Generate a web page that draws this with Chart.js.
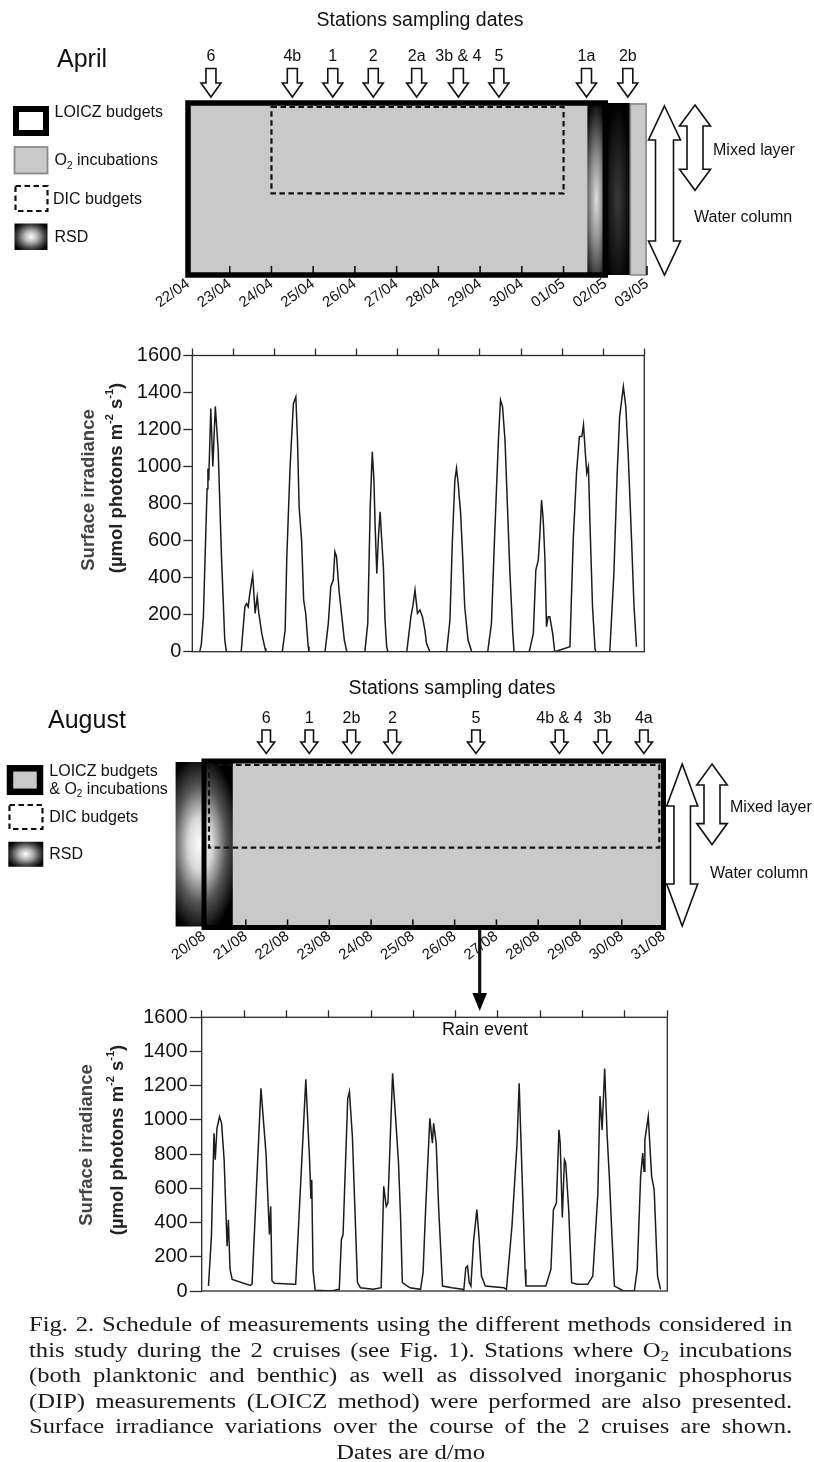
<!DOCTYPE html>
<html lang="en">
<head>
<meta charset="utf-8">
<title>Fig. 2 – Schedule of measurements and surface irradiance</title>
<script src="https://cdn.jsdelivr.net/npm/chart.js"></script>
<style>
  html, body { margin: 0; padding: 0; background: #fff; }
  #fig { position: relative; width: 814px; height: 1462px; overflow: hidden; background: #fff; }
  #fig canvas { position: absolute; left: 0; top: 0; }
  #caption {
    position: absolute; left: 29px; top: 1312px; width: 636px;
    transform: scaleX(1.2); transform-origin: 0 0;
    font-family: "Liberation Serif", "Times New Roman", serif;
    font-size: 20.5px; line-height: 25.6px; color: #1a1a1a;
  }
  #caption .ln { text-align: justify; text-align-last: justify; height: 25.6px; }
  #caption .last { text-align: center; text-align-last: center; }
  #caption sub { font-size: 0.7em; line-height: 0; vertical-align: -0.25em; }
</style>
</head>
<body>
<div id="fig">
  <canvas id="aprilSchedule" width="814" height="1462"></canvas>
  <canvas id="aprilIrradiance" width="814" height="1462"></canvas>
  <canvas id="augustSchedule" width="814" height="1462"></canvas>
  <canvas id="augustIrradiance" width="814" height="1462"></canvas>
  <div id="caption">
    <div class="ln">Fig. 2. Schedule of measurements using the different methods considered in</div>
    <div class="ln">this study during the 2 cruises (see Fig. 1). Stations where O<sub>2</sub> incubations</div>
    <div class="ln">(both planktonic and benthic) as well as dissolved inorganic phosphorus</div>
    <div class="ln">(DIP) measurements (LOICZ method) were performed are also presented.</div>
    <div class="ln">Surface irradiance variations over the course of the 2 cruises are shown.</div>
    <div class="ln last">Dates are d/mo</div>
  </div>
</div>
<script>
// ================= April cruise (days counted from 22/04, 00:00) =================
const aprilDates = ['22/04', '23/04', '24/04', '25/04', '26/04', '27/04',
                    '28/04', '29/04', '30/04', '01/05', '02/05', '03/05'];
const aprilStationLabels = ['6', '4b', '1', '2', '2a', '3b & 4', '5', '1a', '2b'];
const aprilStationDays   = [0.55, 2.5, 3.47, 4.44, 5.48, 6.48, 7.45, 9.55, 10.54];
const aprilLoiczPeriod   = [0, 10];
const aprilO2Periods     = [[0, 9.57], [10.6, 11]];
const aprilDicPeriod     = [2, 9];
const aprilRsdPeriods    = [[9.57, 10], [10, 10.6]];
const aprilMixedDepth    = 0.525;   // fraction of the water column

// Surface irradiance (µmol photons m-2 s-1), time in days from 22/04
const aprilTimes = [
  0.18, 0.22, 0.27, 0.31, 0.36, 0.38, 0.40, 0.45, 0.50, 0.56, 0.63, 0.71, 0.79, 0.83,
  1.19, 1.28, 1.32, 1.36, 1.40, 1.47, 1.53, 1.58, 1.62, 1.69, 1.77, 1.79,
  2.19, 2.26, 2.30, 2.38, 2.46, 2.52, 2.56, 2.60, 2.66, 2.71, 2.76, 2.82, 2.84,
  3.23, 3.31, 3.37, 3.43, 3.47, 3.51, 3.57, 3.63, 3.70, 3.76,
  4.20, 4.27, 4.33, 4.38, 4.42, 4.45, 4.49, 4.53, 4.57, 4.61, 4.65, 4.69, 4.73, 4.76,
  5.22, 5.32, 5.37, 5.42, 5.48, 5.54, 5.60, 5.66, 5.70, 5.78,
  6.19, 6.27, 6.33, 6.39, 6.43, 6.47, 6.53, 6.58, 6.63, 6.71, 6.80,
  7.19, 7.28, 7.36, 7.45, 7.50, 7.55, 7.61, 7.67, 7.73, 7.80, 7.83,
  8.20, 8.30, 8.36, 8.42, 8.46, 8.50, 8.54, 8.58, 8.62, 8.66, 8.70, 8.77, 8.82,
  9.19, 9.27, 9.35, 9.42, 9.48, 9.52, 9.56, 9.60, 9.64, 9.68, 9.74, 9.80, 9.82,
  10.16, 10.26, 10.34, 10.40, 10.49, 10.55, 10.61, 10.69, 10.75, 10.81
];
const aprilIrradiance = [
  0, 40, 190, 500, 880, 990, 925, 1314, 1000, 1325, 1090, 515, 63, 0,
  0, 243, 260, 243, 315, 414, 207, 297, 207, 99, 18, 0,
  0, 117, 512, 999, 1340, 1377, 1142, 782, 603, 279, 207, 27, 0,
  0, 153, 351, 387, 540, 513, 333, 207, 63, 0,
  0, 153, 783, 1080, 927, 675, 423, 620, 756, 603, 459, 171, 27, 0,
  0, 189, 250, 333, 207, 225, 189, 117, 45, 0,
  0, 171, 603, 927, 991, 910, 747, 513, 243, 63, 0,
  0, 153, 639, 1144, 1360, 1324, 1144, 783, 423, 99, 0,
  0, 99, 441, 495, 639, 819, 711, 513, 135, 189, 189, 99, 0,
  27, 603, 964, 1162, 1162, 1225, 1090, 964, 1000, 675, 243, 18, 0,
  0, 423, 964, 1270, 1432, 1324, 1054, 603, 243, 27
];

// ================= August cruise (days counted from 20/08, 00:00) =================
const augustDates = ['20/08', '21/08', '22/08', '23/08', '24/08', '25/08',
                     '26/08', '27/08', '28/08', '29/08', '30/08', '31/08'];
const augustStationLabels = ['6', '1', '2b', '2', '5', '4b & 4', '3b', '4a'];
const augustStationDays   = [1.49, 2.52, 3.53, 4.51, 6.51, 8.51, 9.54, 10.53];
const augustLoiczPeriod   = [0, 11];
const augustO2Periods     = [[0.69, 11]];
const augustDicPeriod     = [0.12, 10.9];
const augustRsdPeriods    = [[-0.68, 0.69]];
const augustMixedDepth    = 0.52;
const rainEventDay        = 6.6;

const augustTimes = [
  0.16, 0.23, 0.29, 0.32, 0.36, 0.42, 0.47, 0.53, 0.60, 0.63, 0.67, 0.72,
  1.15, 1.19, 1.40, 1.52, 1.60, 1.63, 1.66, 1.72,
  2.18, 2.22, 2.46, 2.55, 2.58, 2.60, 2.63, 2.68,
  3.07, 3.25, 3.30, 3.34, 3.45, 3.49, 3.56, 3.62, 3.68, 3.75,
  4.05, 4.24, 4.30, 4.36, 4.40, 4.51, 4.59, 4.65, 4.70, 4.74, 4.92,
  5.17, 5.23, 5.29, 5.39, 5.45, 5.48, 5.54, 5.60, 5.69, 5.91,
  6.16, 6.19, 6.24, 6.28, 6.32, 6.36, 6.42, 6.50, 6.55, 6.61, 6.70,
  7.14, 7.20, 7.33, 7.45, 7.50, 7.57, 7.64, 7.66, 7.82,
  8.13, 8.25, 8.31, 8.38, 8.44, 8.47, 8.52, 8.57, 8.60, 8.67, 8.74, 8.87,
  9.12, 9.24, 9.36, 9.41, 9.46, 9.52, 9.58, 9.63, 9.70, 9.75, 9.97,
  10.22, 10.29, 10.37, 10.42, 10.45, 10.47, 10.55, 10.63, 10.69, 10.77, 10.84
];
const augustIrradiance = [
  29, 320, 922, 767, 950, 1019, 980, 767, 262, 417, 126, 68,
  33, 40, 1185, 800, 330, 495, 60, 45,
  39, 39, 1237, 760, 540, 650, 120, 5,
  0, 10, 300, 330, 1125, 1165, 903, 476, 49, 19,
  10, 19, 612, 495, 515, 1272, 980, 748, 417, 49, 19,
  10, 107, 476, 1010, 864, 980, 864, 476, 29, 19,
  10, 0, 136, 146, 49, 29, 282, 476, 320, 87, 29,
  19, 10, 379, 864, 1214, 670, 126, 29, 29,
  29, 126, 476, 515, 942, 864, 430, 767, 748, 476, 49, 39,
  39, 87, 573, 1140, 942, 1301, 903, 670, 282, 29, 0,
  0, 126, 670, 806, 700, 884, 1020, 670, 592, 87, 10
];

// ================= drawing helpers =================
const FONT = '"Liberation Sans", Arial, Helvetica, sans-serif';
const GREY = '#c9c9c9';
Chart.defaults.font.family = FONT;
Chart.defaults.color = '#111';

// Text made of runs, each run normal / 'sub' / 'sup'
function rich(ctx, parts, x, y, size, opt = {}) {
  const weight = opt.weight || 'normal';
  const color = opt.color || '#111';
  const small = Math.round(size * 0.62);
  const fontFor = m => `${weight} ${m ? small : size}px ${FONT}`;
  let total = 0;
  parts.forEach(([t, m]) => { ctx.font = fontFor(m); total += ctx.measureText(t).width; });
  let cx = opt.align === 'center' ? x - total / 2 : x;
  ctx.fillStyle = color;
  ctx.textBaseline = 'middle';
  ctx.textAlign = 'left';
  parts.forEach(([t, m]) => {
    ctx.font = fontFor(m);
    const dy = m === 'sub' ? size * 0.3 : m === 'sup' ? -size * 0.4 : 0;
    ctx.fillText(t, cx, y + dy);
    cx += ctx.measureText(t).width;
  });
}
function label(ctx, str, x, y, size, align = 'left', color = '#111') {
  ctx.font = `${size}px ${FONT}`;
  ctx.fillStyle = color;
  ctx.textAlign = align;
  ctx.textBaseline = 'middle';
  ctx.fillText(str, x, y);
}
// hollow downward arrow marking a station
function downArrow(ctx, cx, top, headTop, tip, shaftW, headW) {
  ctx.beginPath();
  ctx.moveTo(cx - shaftW / 2, top);
  ctx.lineTo(cx + shaftW / 2, top);
  ctx.lineTo(cx + shaftW / 2, headTop);
  ctx.lineTo(cx + headW / 2, headTop);
  ctx.lineTo(cx, tip);
  ctx.lineTo(cx - headW / 2, headTop);
  ctx.lineTo(cx - shaftW / 2, headTop);
  ctx.closePath();
  ctx.fillStyle = '#fff';
  ctx.fill();
  ctx.lineWidth = 1.6;
  ctx.strokeStyle = '#111';
  ctx.stroke();
}
// hollow vertical double arrow (depth ranges)
function doubleArrow(ctx, cx, top, bottom, headH, headW, shaftW) {
  const hw = headW / 2, sw = shaftW / 2;
  ctx.beginPath();
  ctx.moveTo(cx, top);
  ctx.lineTo(cx + hw, top + headH);
  ctx.lineTo(cx + sw, top + headH);
  ctx.lineTo(cx + sw, bottom - headH);
  ctx.lineTo(cx + hw, bottom - headH);
  ctx.lineTo(cx, bottom);
  ctx.lineTo(cx - hw, bottom - headH);
  ctx.lineTo(cx - sw, bottom - headH);
  ctx.lineTo(cx - sw, top + headH);
  ctx.lineTo(cx - hw, top + headH);
  ctx.closePath();
  ctx.fillStyle = '#fff';
  ctx.fill();
  ctx.lineWidth = 1.6;
  ctx.strokeStyle = '#111';
  ctx.stroke();
}
// rectangle filled with an elliptical radial shading (RSD)
function shadedRect(ctx, x0, y0, x1, y1, cx, cy, rx, ry, stops) {
  ctx.save();
  ctx.beginPath();
  ctx.rect(x0, y0, x1 - x0, y1 - y0);
  ctx.clip();
  ctx.translate(cx, cy);
  ctx.scale(1, ry / rx);
  const g = ctx.createRadialGradient(0, 0, 0, 0, 0, rx);
  stops.forEach(([o, c]) => g.addColorStop(o, c));
  ctx.fillStyle = g;
  const k = rx / ry;
  ctx.fillRect(x0 - cx - 2, (y0 - cy) * k - 2, x1 - x0 + 4, (y1 - y0) * k + 4);
  ctx.restore();
}
const RSD_STOPS = [[0, '#ffffff'], [0.35, '#b4b4b4'], [0.75, '#3c3c3c'], [1, '#050505']];

function dashedRect(ctx, x, y, w, h) {
  ctx.save();
  ctx.setLineDash([5.5, 3.5]);
  ctx.lineWidth = 2.2;
  ctx.strokeStyle = '#111';
  ctx.strokeRect(x, y, w, h);
  ctx.restore();
}

// schedule x-axis: one tick per day, dates as rotated labels
function scheduleXAxis(dates) {
  return {
    type: 'linear', position: 'bottom', min: 0, max: 11,
    ticks: {
      stepSize: 1, autoSkip: false, minRotation: 36, maxRotation: 36, padding: 0,
      color: '#111', font: { family: FONT, size: 15 },
      callback: v => dates[v] ?? ''
    },
    grid: { display: false, drawTicks: false },
    border: { display: false },
    afterFit: s => { s.height = 45; }
  };
}

// ================= April schedule =================
const aprilSchedulePlugin = {
  id: 'aprilSchedule',
  afterDraw(chart) {
    const { ctx, scales: { x, y } } = chart;
    const X = d => x.getPixelForValue(d), Y = v => y.getPixelForValue(v);
    ctx.save();

    // O2 incubations
    ctx.fillStyle = GREY;
    aprilO2Periods.forEach(([s, e]) => ctx.fillRect(X(s), Y(0), X(e) - X(s), Y(1) - Y(0)));
    // RSD periods
    aprilRsdPeriods.forEach(([s, e], i) => {
      const stops = i === 0
        ? [[0, '#dedede'], [0.45, '#8a8a8a'], [1, '#050505']]
        : [[0, '#3a3a3a'], [1, '#000000']];
      shadedRect(ctx, X(s), Y(0), X(e), Y(1), (X(s) + X(e)) / 2, Y(0.56), 14, 100, stops);
    });
    // LOICZ budgets
    ctx.lineWidth = 5.5;
    ctx.strokeStyle = '#000';
    ctx.strokeRect(X(aprilLoiczPeriod[0]), Y(0), X(aprilLoiczPeriod[1]) - X(aprilLoiczPeriod[0]), Y(1) - Y(0));
    // outline of the last O2 incubation period
    const last = aprilO2Periods[aprilO2Periods.length - 1];
    ctx.lineWidth = 1.6;
    ctx.strokeStyle = '#8a8a8a';
    ctx.strokeRect(X(last[0]), Y(0) + 1, X(last[1]) - X(last[0]) - 1, Y(1) - Y(0) - 1);
    // DIC budgets
    dashedRect(ctx, X(aprilDicPeriod[0]), Y(0) + 4, X(aprilDicPeriod[1]) - X(aprilDicPeriod[0]), Y(aprilMixedDepth) - Y(0) - 4);
    // day ticks
    ctx.lineWidth = 1.5;
    ctx.strokeStyle = '#000';
    for (let d = 0; d <= 11; d++) {
      ctx.beginPath();
      ctx.moveTo(X(d), Y(1) - 9);
      ctx.lineTo(X(d), Y(1));
      ctx.stroke();
    }
    // stations sampling dates
    label(ctx, 'Stations sampling dates', 420, 21, 19.5, 'center');
    aprilStationDays.forEach((d, i) => {
      label(ctx, aprilStationLabels[i], X(d), 57, 16, 'center');
      downArrow(ctx, X(d), 68.5, 83, 97, 10, 20);
    });
    // water column / mixed layer
    doubleArrow(ctx, 664.5, Y(0) + 3, Y(1), 34, 32, 18);
    doubleArrow(ctx, 695, Y(0) + 2, Y(aprilMixedDepth) - 3, 21, 31, 16);
    label(ctx, 'Mixed layer', 713, 151, 16);
    label(ctx, 'Water column', 694, 218, 16);

    // cruise name and legend
    label(ctx, 'April', 57, 60, 25);
    ctx.lineWidth = 6;
    ctx.strokeStyle = '#000';
    ctx.strokeRect(16, 109, 30, 24);
    label(ctx, 'LOICZ budgets', 54.5, 113, 16);
    ctx.fillStyle = GREY;
    ctx.fillRect(14.5, 147, 33, 26.5);
    ctx.lineWidth = 1.8;
    ctx.strokeStyle = '#8a8a8a';
    ctx.strokeRect(14.5, 147, 33, 26.5);
    rich(ctx, [['O', ''], ['2', 'sub'], [' incubations', '']], 54.5, 161, 16);
    dashedRect(ctx, 15.5, 186, 32, 25);
    label(ctx, 'DIC budgets', 53, 200, 16);
    shadedRect(ctx, 14.5, 223.5, 47.5, 250, 31, 236.7, 19, 16, RSD_STOPS);
    label(ctx, 'RSD', 54.5, 238, 16);
    ctx.restore();
  }
};

new Chart(document.getElementById('aprilSchedule'), {
  type: 'scatter',
  data: { datasets: [] },
  options: {
    responsive: false, animation: false, devicePixelRatio: 1,
    layout: { padding: { left: 188, right: 167, top: 103, bottom: 1142 } },
    plugins: { legend: { display: false }, tooltip: { enabled: false } },
    scales: {
      x: scheduleXAxis(aprilDates),
      y: { type: 'linear', min: 0, max: 1, reverse: true, display: false }
    }
  },
  plugins: [aprilSchedulePlugin]
});

// ================= August schedule =================
const augustSchedulePlugin = {
  id: 'augustSchedule',
  afterDraw(chart) {
    const { ctx, scales: { x, y } } = chart;
    const X = d => x.getPixelForValue(d), Y = v => y.getPixelForValue(v);
    ctx.save();

    // LOICZ budgets & O2 incubations
    ctx.fillStyle = GREY;
    augustO2Periods.forEach(([s, e]) => ctx.fillRect(X(s), Y(0), X(e) - X(s), Y(1) - Y(0)));
    // RSD
    augustRsdPeriods.forEach(([s, e]) => {
      shadedRect(ctx, X(s), Y(0) + 1, X(e), Y(1) - 1, (X(s) + X(e)) / 2 - 4, Y(0.5), 40, 90,
        [[0, '#ffffff'], [0.3, '#d8d8d8'], [0.65, '#555555'], [1, '#000000']]);
    });
    ctx.lineWidth = 5;
    ctx.strokeStyle = '#000';
    ctx.strokeRect(X(augustLoiczPeriod[0]), Y(0), X(augustLoiczPeriod[1]) - X(augustLoiczPeriod[0]), Y(1) - Y(0));
    // DIC budgets
    dashedRect(ctx, X(augustDicPeriod[0]), Y(0) + 4, X(augustDicPeriod[1]) - X(augustDicPeriod[0]), Y(augustMixedDepth) - Y(0) - 4);
    // day ticks
    ctx.lineWidth = 1.5;
    ctx.strokeStyle = '#000';
    for (let d = 0; d <= 11; d++) {
      ctx.beginPath();
      ctx.moveTo(X(d), Y(1) - 8);
      ctx.lineTo(X(d), Y(1));
      ctx.stroke();
    }
    // stations sampling dates
    label(ctx, 'Stations sampling dates', 452, 688.5, 19.5, 'center');
    augustStationDays.forEach((d, i) => {
      label(ctx, augustStationLabels[i], X(d), 718.5, 16, 'center');
      downArrow(ctx, X(d), 730, 742, 753.5, 8.5, 17);
    });
    // depth ranges
    doubleArrow(ctx, 682.2, Y(0) + 3, Y(1) - 1.5, 42, 31, 16.5);
    doubleArrow(ctx, 712, Y(0) + 3, Y(augustMixedDepth) - 3, 21, 30.5, 16);
    label(ctx, 'Mixed layer', 730, 808, 16);
    label(ctx, 'Water column', 710, 873.5, 16);

    // rain event
    const rx = X(rainEventDay);
    ctx.lineWidth = 3.2;
    ctx.beginPath();
    ctx.moveTo(rx, Y(1) + 2);
    ctx.lineTo(rx, 995);
    ctx.stroke();
    ctx.beginPath();
    ctx.moveTo(rx - 7.3, 993);
    ctx.lineTo(rx + 7.3, 993);
    ctx.lineTo(rx, 1011);
    ctx.closePath();
    ctx.fillStyle = '#000';
    ctx.fill();

    // cruise name and legend
    label(ctx, 'August', 48, 721.5, 25);
    ctx.fillStyle = GREY;
    ctx.fillRect(8, 766, 34, 28);
    ctx.lineWidth = 6.5;
    ctx.strokeStyle = '#000';
    ctx.strokeRect(10, 768.3, 30, 23.5);
    label(ctx, 'LOICZ budgets', 49.3, 772, 16);
    rich(ctx, [['& O', ''], ['2', 'sub'], [' incubations', '']], 49.3, 789.5, 16);
    dashedRect(ctx, 9.5, 805, 33, 24);
    label(ctx, 'DIC budgets', 49.3, 817.5, 16);
    shadedRect(ctx, 8.3, 841.7, 43.3, 866.7, 25.8, 854.2, 20, 15, RSD_STOPS);
    label(ctx, 'RSD', 49.3, 855, 16);
    ctx.restore();
  }
};

new Chart(document.getElementById('augustSchedule'), {
  type: 'scatter',
  data: { datasets: [] },
  options: {
    responsive: false, animation: false, devicePixelRatio: 1,
    layout: { padding: { left: 204, right: 150.5, top: 761, bottom: 489.5 } },
    plugins: { legend: { display: false }, tooltip: { enabled: false } },
    scales: {
      x: scheduleXAxis(augustDates),
      y: { type: 'linear', min: 0, max: 1, reverse: true, display: false }
    }
  },
  plugins: [augustSchedulePlugin]
});

// ================= surface irradiance panels =================
function irradianceChart(id, times, values, pad, yTickLen, title, extra) {
  const framePlugin = {
    id: 'frame_' + id,
    afterDraw(chart) {
      const { ctx, chartArea: a } = chart;
      ctx.save();
      ctx.lineWidth = 1.3;
      ctx.strokeStyle = '#2a2a2a';
      ctx.strokeRect(a.left, a.top, a.right - a.left, a.bottom - a.top);
      // y-axis title
      ctx.translate(title.x1, title.y1);
      ctx.rotate(-Math.PI / 2);
      rich(ctx, [['Surface irradiance', '']], 0, 0, 18.5, { weight: 'bold', color: '#444', align: 'center' });
      ctx.restore();
      ctx.save();
      ctx.translate(title.x2, title.y2);
      ctx.rotate(-Math.PI / 2);
      rich(ctx, [['(µmol photons m', ''], ['-2', 'sup'], [' s', ''], ['-1', 'sup'], [')', '']],
        0, 0, 18.5, { weight: 'bold', color: '#222', align: 'center' });
      ctx.restore();
      if (extra) extra(chart);
    }
  };
  return new Chart(document.getElementById(id), {
    type: 'line',
    data: {
      datasets: [{
        data: times.map((t, i) => ({ x: t, y: values[i] })),
        borderColor: '#1c1c1c', borderWidth: 1.5, pointRadius: 0, tension: 0, fill: false
      }]
    },
    options: {
      responsive: false, animation: false, devicePixelRatio: 1,
      layout: { padding: pad },
      plugins: { legend: { display: false }, tooltip: { enabled: false } },
      scales: {
        x: { type: 'linear', min: 0, max: 11, display: false },
        xTop: {
          type: 'linear', position: 'top', min: 0, max: 11,
          ticks: { stepSize: 1, display: false },
          grid: { drawOnChartArea: false, tickLength: 7, tickWidth: 1.3, tickColor: '#2a2a2a' },
          border: { display: false },
          afterFit: s => { s.height = 7; }
        },
        y: {
          min: 0, max: 1600,
          ticks: { stepSize: 200, padding: 2, color: '#111', font: { family: FONT, size: 20 }, callback: v => String(v) },
          grid: { drawOnChartArea: false, tickLength: yTickLen, tickWidth: 1.3, tickColor: '#2a2a2a' },
          border: { display: false },
          afterFit: s => { s.width = 80; }
        }
      }
    },
    plugins: [framePlugin]
  });
}

irradianceChart('aprilIrradiance', aprilTimes, aprilIrradiance,
  { left: 112.3, right: 169.7, top: 348.5, bottom: 810.3 }, 9,
  { x1: 89, y1: 490, x2: 117, y2: 478 });

irradianceChart('augustIrradiance', augustTimes, augustIrradiance,
  { left: 121.7, right: 146.7, top: 1010.3, bottom: 171 }, 12,
  { x1: 87, y1: 1145, x2: 118, y2: 1140 },
  chart => {
    const { ctx, scales: { x }, chartArea: a } = chart;
    label(ctx, 'Rain event', x.getPixelForValue(rainEventDay) + 4, a.top + 13, 18, 'center');
  });
</script>
</body>
</html>
